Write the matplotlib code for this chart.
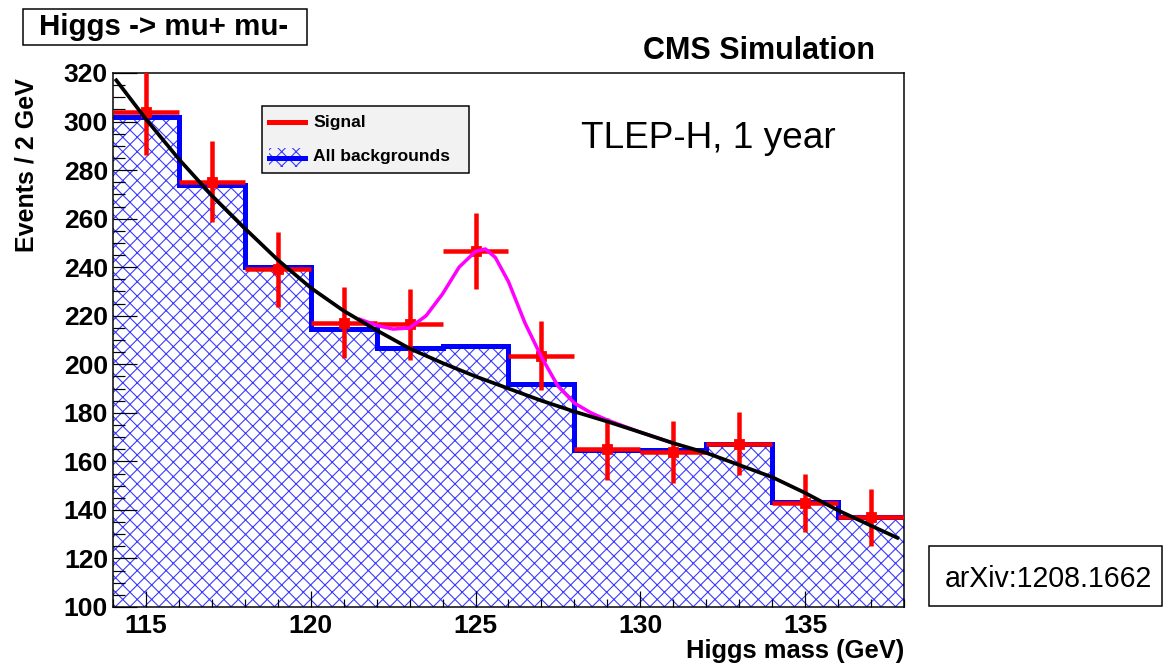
import numpy as np
import matplotlib
matplotlib.use("Agg")
import matplotlib.pyplot as plt
from matplotlib.patches import Rectangle
from matplotlib.lines import Line2D

# ---------------- data ----------------
bin_edges = [114, 116, 118, 120, 122, 124, 126, 128, 130, 132, 134, 136, 138]
background = [301.8, 273.9, 240.0, 214.4, 206.6, 207.7, 191.8, 164.5, 164.5, 167.2, 143.4, 137.0]
signal_mass = [115, 117, 119, 121, 123, 125, 127, 129, 131, 133, 135, 137]
signal = [303.8, 275.2, 239.2, 217.2, 216.5, 246.8, 203.5, 165.0, 163.7, 167.3, 143.0, 137.0]
signal_err = [17.4, 16.6, 15.5, 14.7, 14.7, 15.7, 14.3, 12.8, 12.8, 12.9, 12.0, 11.7]
signal_xerr = [1.0] * 12

fit_mass = [114.1, 115, 116, 117, 118, 119, 120, 121, 122, 123, 124, 125, 126,
            127, 128, 129, 130, 131, 132, 133, 134, 135, 136, 137, 137.8]
fit_bkg = [317.0, 301.0, 284.5, 269.5, 256.0, 243.0, 231.5, 222.0, 214.0, 206.5,
           200.5, 195.0, 190.0, 185.0, 180.5, 176.4, 172.0, 167.5, 163.5, 158.5,
           153.5, 147.0, 139.8, 133.5, 128.5]

sb_mass = [121.5, 122.0, 122.5, 123.0, 123.5, 124.0, 124.5, 125.0, 125.3, 125.6,
           126.0, 126.5, 127.0, 127.5, 128.0, 128.5, 129.0, 130.0, 131.0]
sb_val = [218.5, 216.0, 214.5, 215.0, 220.0, 229.0, 240.0, 246.5, 247.5, 244.0,
          234.0, 217.0, 203.0, 191.0, 184.0, 180.0, 177.0, 172.0, 167.5]

x_major = [115, 120, 125, 130, 135]
y_major = [100, 120, 140, 160, 180, 200, 220, 240, 260, 280, 300, 320]

# ---------------- layout helpers ----------------
DPI = 130
W, H = 1164, 666


def pt(px):
    return px * 72.0 / DPI


def fx(x):
    return x / W


def fy(y):
    return 1 - y / H


plt.rcParams['font.family'] = ['Liberation Sans', 'DejaVu Sans']
plt.rcParams['hatch.linewidth'] = pt(1.1)

HATCH_BLUE = '#3a3aff'
BLUE = '#0000ff'
RED = '#ff0000'
MAGENTA = '#ff00ff'

fig = plt.figure(figsize=(W / DPI, H / DPI), dpi=DPI)
fig.patch.set_facecolor('white')
ax = fig.add_axes([fx(113), fy(607), 791 / W, 534 / H])

# hatched background histogram
ax.stairs(background, bin_edges, baseline=0, fill=True, facecolor='white',
          edgecolor=HATCH_BLUE, hatch='xxx', linewidth=0, zorder=1)
ax.stairs(background, bin_edges, baseline=None, color=BLUE,
          linewidth=pt(5), zorder=2)

# signal points
ax.errorbar(signal_mass, signal, xerr=signal_xerr, yerr=signal_err, fmt='s',
            color=RED, ms=pt(9), elinewidth=pt(4.5), capsize=0, zorder=3)

# fits
ax.plot(sb_mass, sb_val, color=MAGENTA, lw=pt(3.5), zorder=4,
        solid_joinstyle='round')
ax.plot(fit_mass, fit_bkg, color='black', lw=pt(3.7), zorder=5,
        solid_joinstyle='round')

ax.set_xlim(114, 138)
ax.set_ylim(100, 320)
ax.set_xticks(x_major)
ax.set_xticks(np.arange(114, 139, 1), minor=True)
ax.set_yticks(y_major)
ax.set_yticks(np.arange(100, 321, 5), minor=True)
ax.set_xticklabels([str(v) for v in x_major])
ax.set_yticklabels([str(v) for v in y_major])

tick_font = pt(26.5)
ax.tick_params(axis='both', which='both', direction='in', width=pt(1.2),
               colors='black', top=False, right=False)
ax.tick_params(axis='y', which='major', length=pt(24), pad=pt(5))
ax.tick_params(axis='y', which='minor', length=pt(12))
ax.tick_params(axis='x', which='major', length=pt(16), pad=pt(7))
ax.tick_params(axis='x', which='minor', length=pt(8))
for lab in ax.get_xticklabels() + ax.get_yticklabels():
    lab.set_fontsize(tick_font)
    lab.set_fontweight('bold')

for sp in ax.spines.values():
    sp.set_linewidth(pt(1.5))
    sp.set_color('black')

ax.set_ylabel('Events / 2 GeV', loc='top', fontsize=pt(25), fontweight='bold')
ax.yaxis.set_label_coords(-0.094, 0.991)
ax.set_xlabel('Higgs mass (GeV)', loc='right', fontsize=pt(25.5),
              fontweight='bold')
ax.xaxis.set_label_coords(1.0, -(639 - 607) / 534)

# ---------------- title box ----------------
fig.add_artist(Rectangle((fx(23), fy(45)), 284 / W, 36 / H,
                         transform=fig.transFigure, facecolor='white',
                         edgecolor='black', lw=pt(1.5)))
fig.text(fx(164), fy(27), 'Higgs -> mu+ mu-', ha='center', va='center',
         fontsize=pt(29.5), fontweight='bold')

fig.text(fx(875), fy(59), 'CMS Simulation', ha='right', va='baseline',
         fontsize=pt(30.5), fontweight='bold')

fig.text(fx(581), fy(148), 'TLEP-H, 1 year', ha='left', va='baseline',
         fontsize=pt(37))

# ---------------- arXiv box ----------------
fig.add_artist(Rectangle((fx(929), fy(606)), 233 / W, 60 / H,
                         transform=fig.transFigure, facecolor='white',
                         edgecolor='black', lw=pt(1.5)))
fig.text(fx(945), fy(587), 'arXiv:1208.1662', ha='left', va='baseline',
         fontsize=pt(28.5))

# ---------------- legend ----------------
fig.add_artist(Rectangle((fx(262), fy(173)), 207 / W, 67 / H,
                         transform=fig.transFigure, facecolor='#f2f2f2',
                         edgecolor='black', lw=pt(1.5), zorder=6))
fig.add_artist(Line2D([fx(269), fx(305)], [fy(122), fy(122)],
                      transform=fig.transFigure, color=RED, lw=pt(5),
                      zorder=7))
fig.add_artist(Rectangle((fx(269), fy(167)), 36 / W, 19 / H,
                         transform=fig.transFigure, facecolor='none',
                         edgecolor=HATCH_BLUE, hatch='xxx', lw=0, zorder=7))
fig.add_artist(Line2D([fx(269), fx(305)], [fy(157.5), fy(157.5)],
                      transform=fig.transFigure, color=BLUE, lw=pt(5),
                      zorder=8))
fig.text(fx(313), fy(122), 'Signal', ha='left', va='center',
         fontsize=pt(17.5), fontweight='bold', zorder=9)
fig.text(fx(313), fy(157), 'All backgrounds', ha='left', va='center',
         fontsize=pt(17.5), fontweight='bold', zorder=9)

fig.savefig('out.png', dpi=DPI)
